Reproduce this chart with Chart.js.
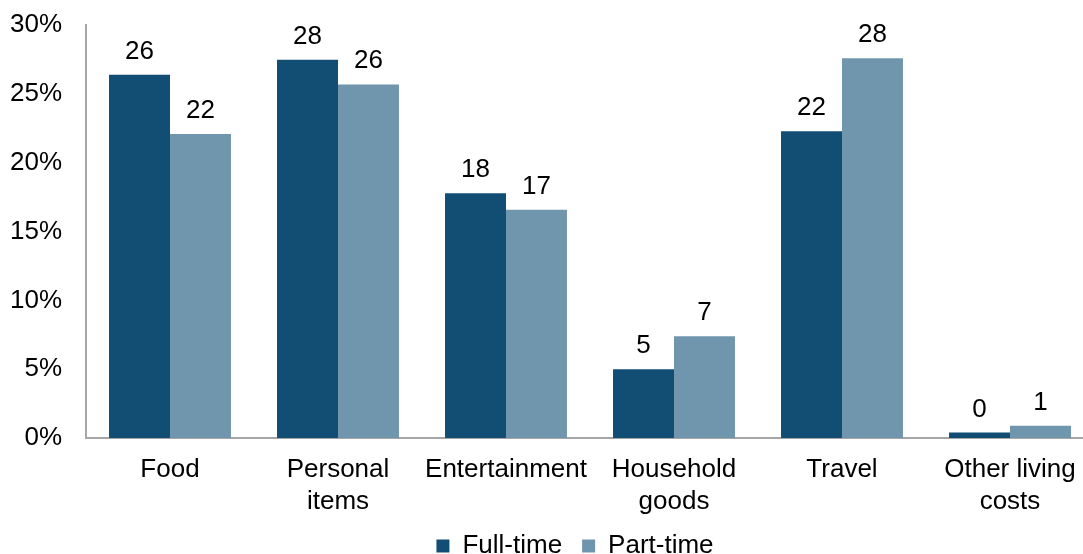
<!DOCTYPE html>
<html>
<head>
<meta charset="utf-8">
<script src="https://cdn.jsdelivr.net/npm/chart.js@4/dist/chart.umd.min.js"></script>
<style>
  html, body { margin: 0; padding: 0; background: #fff; overflow: hidden; }
  #wrap { width: 1094px; height: 554px; }
</style>
</head>
<body>
<div id="wrap"><canvas id="chart"></canvas></div>
<script>
const categories = ['Food', ['Personal', 'items'], 'Entertainment', ['Household', 'goods'], 'Travel', ['Other living', 'costs']];
const fullTime = [26.4, 27.5, 17.8, 5.0, 22.3, 0.4];
const partTime = [22.1, 25.7, 16.6, 7.4, 27.6, 0.9];
const yTicks = [0, 5, 10, 15, 20, 25, 30];

const FONT = '"Liberation Sans", Arial, sans-serif';

// value labels above each bar
const barLabels = {
  id: 'barLabels',
  afterDatasetsDraw(chart) {
    const ctx = chart.ctx;
    ctx.save();
    ctx.font = '26px ' + FONT;
    ctx.fillStyle = '#000';
    ctx.textAlign = 'center';
    ctx.textBaseline = 'alphabetic';
    chart.data.datasets.forEach((ds, i) => {
      chart.getDatasetMeta(i).data.forEach((bar, j) => {
        ctx.fillText(String(Math.round(ds.data[j])), bar.x, bar.y - 16);
      });
    });
    ctx.restore();
  }
};

// nudge the legend so it sits where the original one does
const legendShift = {
  id: 'legendShift',
  afterLayout(chart) {
    const lg = chart.legend;
    const w = lg.right - lg.left;
    lg.left = 575 - w / 2;
    lg.right = lg.left + w;
    lg.top -= 21;
    lg.bottom -= 21;
  }
};

new Chart(document.getElementById('chart'), {
  type: 'bar',
  data: {
    labels: categories,
    datasets: [
      { label: 'Full-time', data: fullTime, backgroundColor: '#124E73' },
      { label: 'Part-time', data: partTime, backgroundColor: '#7096AE' },
    ],
  },
  options: {
    responsive: true,
    maintainAspectRatio: false,
    animation: false,
    datasets: { bar: { categoryPercentage: 0.726, barPercentage: 1 } },
    layout: { padding: { top: 0, left: 0, right: 0, bottom: -36 } },
    plugins: {
      tooltip: { enabled: false },
      legend: {
        position: 'bottom',
        labels: {
          boxWidth: 13,
          boxHeight: 13,
          padding: 20,
          color: '#000',
          font: { family: FONT, size: 26, lineHeight: 1.2 },
        },
      },
    },
    scales: {
      x: {
        grid: { display: false, drawTicks: false },
        border: { display: true, color: '#A6A6A6', width: 2 },
        ticks: {
          color: '#000',
          padding: 16,
          maxRotation: 0,
          autoSkip: false,
          font: { family: FONT, size: 26, lineHeight: 1.23 },
        },
      },
      y: {
        min: 0,
        max: 30,
        afterFit(scale) { scale.width = 86; },
        afterBuildTicks(scale) { scale.ticks = yTicks.map(v => ({ value: v })); },
        grid: { display: false, drawTicks: false },
        border: { display: true, color: '#A6A6A6', width: 2 },
        ticks: {
          color: '#000',
          padding: 24,
          font: { family: FONT, size: 26, lineHeight: 0.1 },
          callback: v => v + '%',
        },
      },
    },
  },
  plugins: [barLabels, legendShift],
});
</script>
</body>
</html>
